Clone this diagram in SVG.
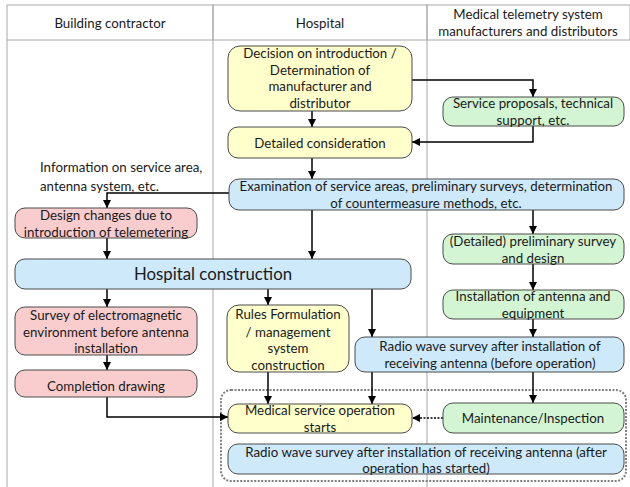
<svg xmlns="http://www.w3.org/2000/svg" width="630" height="487" viewBox="0 0 630 487">
<defs>
<marker id="ah" markerUnits="userSpaceOnUse" markerWidth="8" markerHeight="8" viewBox="0 0 10 10" refX="10" refY="5" orient="auto">
<path d="M0,0 L10,5 L0,10 z" fill="#000"/>
</marker>
</defs>
<style>
text{font-family:Lato,"Liberation Sans",Arial,sans-serif;font-size:13.3px;fill:#1a1a1a;text-anchor:middle}
.hd{font-size:13.3px}
.big{font-size:16.8px}
.lt{text-anchor:start}
.n{stroke:#4a4a4a;stroke-width:1}
.y{fill:#FFFFCC}
.p{fill:#F9CDCD}
.b{fill:#CDE9FA}
.g{fill:#D3F5D3}
.c{fill:none;stroke:#000;stroke-width:1.5;marker-end:url(#ah)}
.grid{stroke:#A8A8A8;stroke-width:1;fill:none}
</style>
<rect width="630" height="487" fill="#fff"/>
<g id="table">
<rect x="7" y="5" width="206" height="35" fill="#FFCCCC" class="grid"/>
<rect x="213" y="5" width="214" height="35" fill="#FFFFCC" class="grid"/>
<rect x="427" y="5" width="203" height="35" fill="#E2F6DC" class="grid"/>
<line x1="7" y1="40" x2="7" y2="487" class="grid" stroke-width="1.5"/>
<line x1="213" y1="40" x2="213" y2="487" class="grid"/>
<line x1="427" y1="40" x2="427" y2="487" class="grid"/>
<text class="hd" x="110" y="27.5">Building contractor</text>
<text class="hd" x="320" y="27.5">Hospital</text>
<text class="hd" x="528" y="19">Medical telemetry system</text>
<text class="hd" x="528" y="36">manufacturers and distributors</text>
</g>
<g id="group-box">
<rect x="221" y="390" width="405" height="91" rx="10" fill="none" stroke="#808080" stroke-width="2" stroke-dasharray="2 1.5"/>
</g>
<g id="connectors">
<path class="c" d="M312,111 V127"/>
<path class="c" d="M412,80 H533 V97"/>
<path class="c" d="M533,126 V142 H412"/>
<path class="c" d="M312,158 V179"/>
<path class="c" d="M229,193 H107 V208"/>
<path class="c" d="M107,238 V259"/>
<path class="c" d="M312,210 V259"/>
<path class="c" d="M533,210 V234"/>
<path class="c" d="M533,264 V290"/>
<path class="c" d="M533,319 V337"/>
<path class="c" d="M107,289 V307"/>
<path class="c" d="M107,355 V370"/>
<path class="c" d="M268,289 V305"/>
<path class="c" d="M372,289 V337"/>
<path class="c" d="M268,372 V404"/>
<path class="c" d="M372,372 V404"/>
<path class="c" d="M533,372 V403"/>
<path class="c" d="M107,397 V417 H228"/>
<path class="c" d="M443,418 H412" stroke-dasharray="2 1.5" stroke-width="2.5"/>
</g>
<g id="info-text">
<text class="lt" x="40" y="172">Information on service area,</text>
<text class="lt" x="40" y="191">antenna system, etc.</text>
</g>
<g id="decision">
<rect class="n y" x="228" y="46" width="184" height="65" rx="12"/>
<text x="320" y="58">Decision on introduction /</text>
<text x="320" y="74.5">Determination of</text>
<text x="320" y="91">manufacturer and</text>
<text x="320" y="107.5">distributor</text>
</g>
<g id="detailed-consideration">
<rect class="n y" x="228" y="127" width="184" height="31" rx="10"/>
<text x="320" y="147.5">Detailed consideration</text>
</g>
<g id="service-proposals">
<rect class="n g" x="443" y="97" width="181" height="29" rx="10"/>
<text x="533" y="108">Service proposals, technical</text>
<text x="533" y="124.5">support, etc.</text>
</g>
<g id="examination">
<rect class="n b" x="229" y="179" width="395" height="31" rx="10"/>
<text x="426" y="191">Examination of service areas, preliminary surveys, determination</text>
<text x="426" y="207.5">of countermeasure methods, etc.</text>
</g>
<g id="design-changes">
<rect class="n p" x="15" y="208" width="182" height="30" rx="10"/>
<text x="106" y="220">Design changes due to</text>
<text x="106" y="236.5">introduction of telemetering</text>
</g>
<g id="preliminary-survey">
<rect class="n g" x="443" y="234" width="181" height="30" rx="10"/>
<text x="533" y="246">(Detailed) preliminary survey</text>
<text x="533" y="262.5">and design</text>
</g>
<g id="hospital-construction">
<rect class="n b" x="15" y="259" width="396" height="30" rx="10"/>
<text class="big" x="213" y="280">Hospital construction</text>
</g>
<g id="installation">
<rect class="n g" x="443" y="290" width="181" height="29" rx="10"/>
<text x="533" y="301">Installation of antenna and</text>
<text x="533" y="317.5">equipment</text>
</g>
<g id="survey-em">
<rect class="n p" x="15" y="307" width="182" height="48" rx="10"/>
<text x="106" y="320">Survey of electromagnetic</text>
<text x="106" y="336.5">environment before antenna</text>
<text x="106" y="353">installation</text>
</g>
<g id="rules">
<rect class="n y" x="227" y="305" width="122" height="67" rx="12"/>
<text x="288" y="319">Rules Formulation</text>
<text x="288" y="336.5">/ management</text>
<text x="288" y="353">system</text>
<text x="288" y="369.5">construction</text>
</g>
<g id="radio-before">
<rect class="n b" x="355" y="337" width="269" height="35" rx="10"/>
<text x="490" y="351">Radio wave survey after installation of</text>
<text x="490" y="368">receiving antenna (before operation)</text>
</g>
<g id="completion-drawing">
<rect class="n p" x="15" y="370" width="182" height="27" rx="10"/>
<text x="106" y="391">Completion drawing</text>
</g>
<g id="medical-start">
<rect class="n y" x="228" y="404" width="184" height="29" rx="10"/>
<text x="320" y="414.5">Medical service operation</text>
<text x="320" y="431.5">starts</text>
</g>
<g id="maintenance">
<rect class="n g" x="443" y="403" width="181" height="30" rx="10"/>
<text x="533" y="423">Maintenance/Inspection</text>
</g>
<g id="radio-after">
<rect class="n b" x="228" y="444" width="396" height="30" rx="10"/>
<text x="426" y="456.5">Radio wave survey after installation of receiving antenna (after</text>
<text x="426" y="473">operation has started)</text>
</g>
</svg>
